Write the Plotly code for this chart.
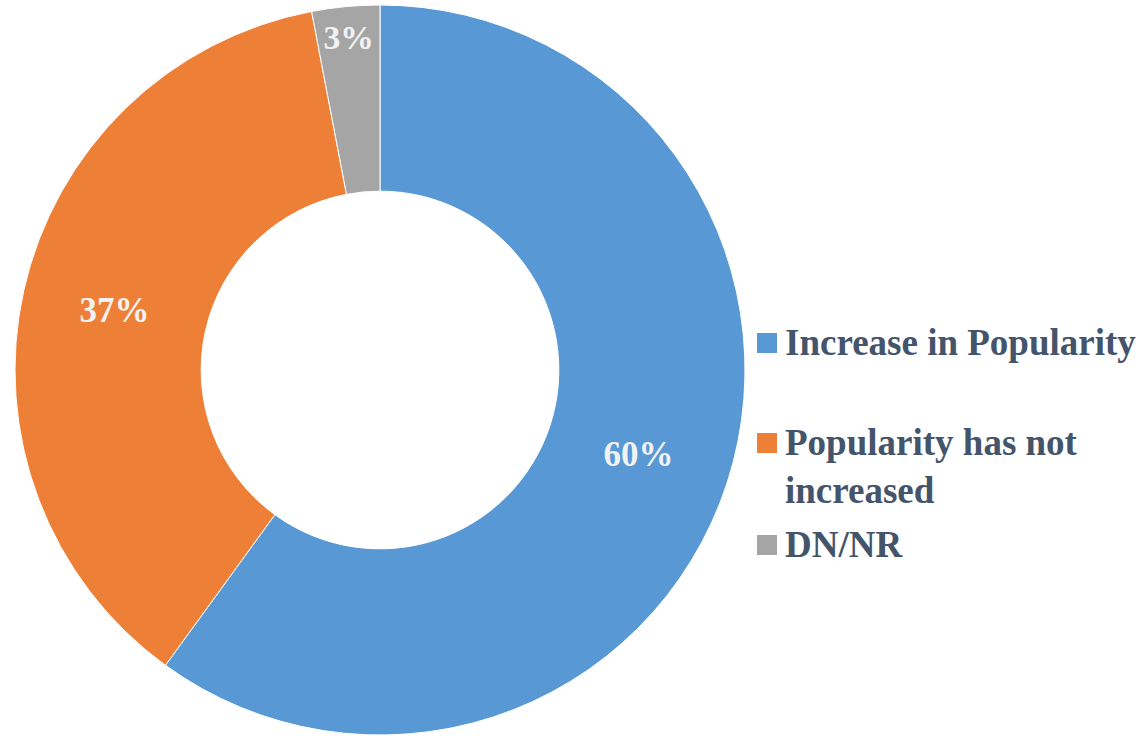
import plotly.graph_objects as go

labels = ["Increase in Popularity", "Popularity has not<br>increased", "DN/NR"]
values = [60, 37, 3]
colors = ["#5898D5", "#ED7F36", "#A5A5A5"]

W, H = 1143, 736
SERIF = "Liberation Serif"

fig = go.Figure(go.Pie(
    labels=labels, values=values,
    hole=0.49, sort=False, direction="clockwise", rotation=0,
    marker=dict(colors=colors, line=dict(color="#FFFFFF", width=1)),
    texttemplate="<b>%{value}%</b>", textposition="inside",
    insidetextorientation="horizontal",
    textfont=dict(family=SERIF, size=35, color="#F2F2F2"),
    domain=dict(x=[15 / W, 745 / W], y=[1 / H, 731 / H]),
    hoverinfo="label+percent",
    showlegend=False,
))

# legend drawn by hand to get Excel-like spacing
leg_y = [343, 443, 545]   # pixel centre of first line of each entry
for lab, col, yc in zip(labels, colors, leg_y):
    fig.add_shape(type="rect", xref="paper", yref="paper",
                  x0=757 / W, x1=777 / W, y0=1 - (yc + 10) / H, y1=1 - (yc - 10) / H,
                  fillcolor=col, line=dict(width=0))
    fig.add_annotation(x=783 / W, y=1 - (yc - 23) / H, xref="paper", yref="paper",
                       xanchor="left", yanchor="top", align="left", showarrow=False,
                       text="<b>" + lab.replace("<br>", "</b><br><b>") + "</b>",
                       font=dict(family=SERIF, size=37, color="#44546A"))

fig.update_layout(
    width=W, height=H,
    margin=dict(l=0, r=0, t=0, b=0),
    paper_bgcolor="white", plot_bgcolor="white",
)

fig.write_html("out.html", config={"displayModeBar": False},
               post_script="document.body.style.margin='0';")
